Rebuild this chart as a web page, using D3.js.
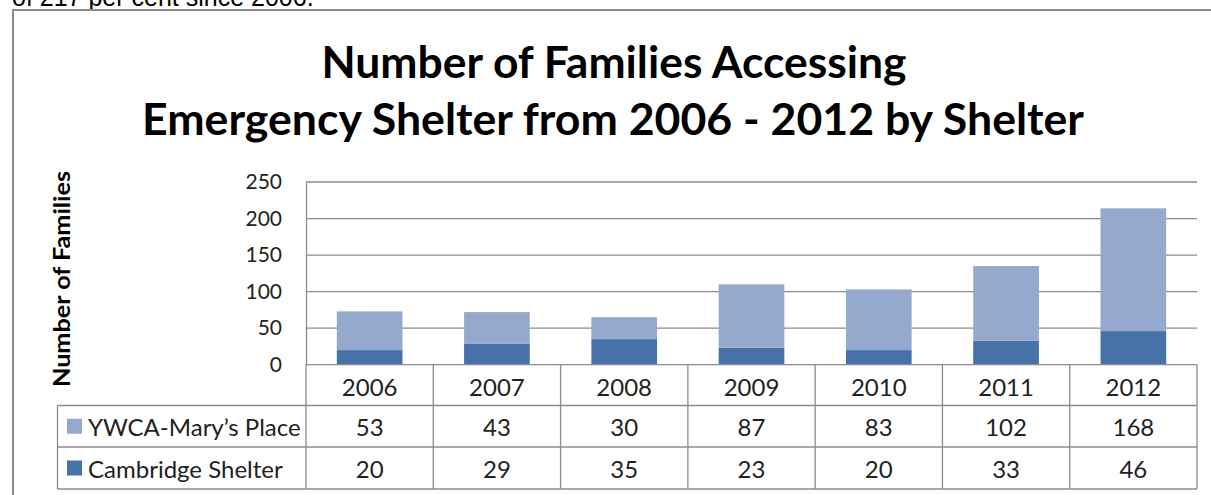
<!DOCTYPE html>
<html>
<head>
<meta charset="utf-8">
<script src="https://cdn.jsdelivr.net/npm/d3@7"></script>
<style>
  html, body { margin: 0; padding: 0; background: #fff; }
  svg { display: block; }
</style>
</head>
<body>
<svg id="chart" width="1211" height="495"></svg>
<script>
// data
const categories = ["2006", "2007", "2008", "2009", "2010", "2011", "2012"];
const seriesNames = ["YWCA-Mary\u2019s Place", "Cambridge Shelter"];
const ywcaValues = [53, 43, 30, 87, 83, 102, 168];
const cambridgeValues = [20, 29, 35, 23, 20, 33, 46];
const yTicks = [0, 50, 100, 150, 200, 250];
const titleLines = ["Number of Families Accessing", "Emergency Shelter from 2006 - 2012 by Shelter"];

const colors = { ywca: "#95a9cf", cambridge: "#4672a8" };
const gridColor = "#8c8c8c";
const font = "Lato, 'Open Sans', sans-serif";

const svg = d3.select("#chart");

// cut-off sentence above the chart box
svg.append("text")
  .attr("x", 12).attr("y", 6)
  .style("font-family", "'Liberation Sans', Arial, sans-serif")
  .style("font-size", "25px")
  .attr("fill", "#000")
  .text("of 217 per cent since 2006.");

// chart box
svg.append("rect")
  .attr("x", 13).attr("y", 10)
  .attr("width", 1220).attr("height", 500)
  .attr("fill", "#fff")
  .attr("stroke", gridColor)
  .attr("stroke-width", 2);

// title
svg.append("g").selectAll("text")
  .data(titleLines)
  .join("text")
  .attr("x", (d, i) => i ? 613 : 614)
  .attr("y", (d, i) => i ? 135 : 78)
  .attr("text-anchor", "middle")
  .attr("textLength", (d, i) => i ? 942 : 585)
  .attr("lengthAdjust", "spacingAndGlyphs")
  .style("font-family", font)
  .style("font-weight", 700)
  .style("font-size", "43px")
  .attr("fill", "#000")
  .text(d => d);

const plotLeft = 306, plotRight = 1197, plotTop = 182, plotBottom = 364.7;

const y = d3.scaleLinear().domain([0, 250]).range([plotBottom, plotTop]);
const col = d3.scaleBand().domain(categories).range([plotLeft, plotRight]).padding(0);
const x = d3.scaleBand().domain(categories).range([plotLeft, plotRight])
  .paddingInner(0.484).paddingOuter(0.242);

// gridlines
svg.append("g").selectAll("line")
  .data(yTicks.filter(d => d > 0))
  .join("line")
  .attr("x1", plotLeft).attr("x2", plotRight)
  .attr("y1", d => y(d)).attr("y2", d => y(d))
  .attr("stroke", gridColor).attr("stroke-width", 1.3);

// y axis
const yAxis = svg.append("g")
  .attr("transform", `translate(${plotLeft},0)`)
  .call(d3.axisLeft(y).tickValues(yTicks).tickSize(0).tickPadding(24));
yAxis.select(".domain").attr("stroke", gridColor).attr("stroke-width", 1.3);
yAxis.selectAll("text")
  .style("font-family", font)
  .style("font-size", "21px")
  .attr("fill", "#222");

// y axis title
svg.append("text")
  .attr("transform", "translate(70,279) rotate(-90)")
  .attr("text-anchor", "middle")
  .attr("textLength", 216)
  .attr("lengthAdjust", "spacingAndGlyphs")
  .style("font-family", font)
  .style("font-weight", 700)
  .style("font-size", "23px")
  .attr("fill", "#000")
  .text("Number of Families");

// stacked bars
const rows = categories.map((c, i) => ({ cat: c, cambridge: cambridgeValues[i], ywca: ywcaValues[i] }));
const stack = d3.stack().keys(["cambridge", "ywca"])(rows);

svg.append("g").selectAll("g")
  .data(stack)
  .join("g")
  .attr("fill", d => colors[d.key])
  .selectAll("rect")
  .data(d => d)
  .join("rect")
  .attr("x", d => x(d.data.cat))
  .attr("width", x.bandwidth())
  .attr("y", d => y(d[1]))
  .attr("height", d => y(d[0]) - y(d[1]));

// baseline
svg.append("line")
  .attr("x1", plotLeft).attr("x2", plotRight)
  .attr("y1", plotBottom).attr("y2", plotBottom)
  .attr("stroke", gridColor).attr("stroke-width", 1.3);

// data table
const tableLeft = 57.5;
const rowEdges = [plotBottom, 405.5, 447, 489];
const table = svg.append("g");

// horizontal lines
[1, 2, 3].forEach(k => {
  table.append("line")
    .attr("x1", tableLeft).attr("x2", plotRight)
    .attr("y1", rowEdges[k]).attr("y2", rowEdges[k]);
});

// vertical lines
const colEdges = categories.map(c => col(c)).concat([plotRight]);
table.selectAll("line.v")
  .data(colEdges)
  .join("line")
  .attr("class", "v")
  .attr("x1", d => d).attr("x2", d => d)
  .attr("y1", rowEdges[0]).attr("y2", rowEdges[3]);
table.append("line")
  .attr("x1", tableLeft).attr("x2", tableLeft)
  .attr("y1", rowEdges[1]).attr("y2", rowEdges[3]);

table.selectAll("line")
  .attr("stroke", gridColor).attr("stroke-width", 1.3);

const cellText = sel => sel
  .attr("dominant-baseline", "central")
  .style("font-family", font)
  .style("font-size", "24px")
  .attr("fill", "#222");

// category labels
table.append("g").selectAll("text")
  .data(categories)
  .join("text")
  .attr("x", d => col(d) + col.bandwidth() / 2)
  .attr("y", (rowEdges[0] + rowEdges[1]) / 2 + 1)
  .attr("text-anchor", "middle")
  .call(cellText)
  .text(d => d);

// value rows
const tableRows = [
  { name: seriesNames[0], color: colors.ywca, values: ywcaValues },
  { name: seriesNames[1], color: colors.cambridge, values: cambridgeValues }
];

tableRows.forEach((r, ri) => {
  const cy = (rowEdges[ri + 1] + rowEdges[ri + 2]) / 2;
  table.append("rect")
    .attr("x", 67).attr("y", cy - 7.5)
    .attr("width", 15).attr("height", 15)
    .attr("fill", r.color);
  table.append("text")
    .attr("x", 88).attr("y", cy)
    .call(cellText)
    .text(r.name);
  table.append("g").selectAll("text")
    .data(r.values)
    .join("text")
    .attr("x", (d, i) => col(categories[i]) + col.bandwidth() / 2)
    .attr("y", cy)
    .attr("text-anchor", "middle")
    .call(cellText)
    .text(d => d);
});
</script>
</body>
</html>
